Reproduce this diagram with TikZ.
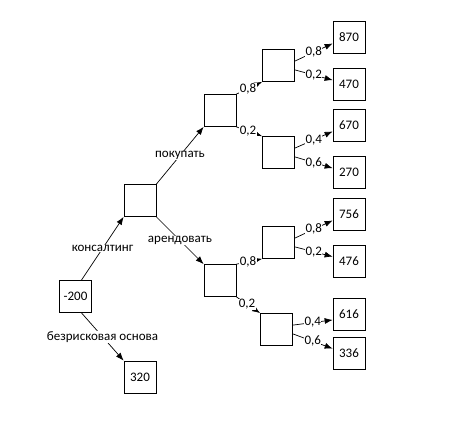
\documentclass[tikz,border=0pt]{standalone}
\usepackage{fontspec}
\setmainfont{Carlito}
\usetikzlibrary{arrows.meta, positioning}

\begin{document}
\begin{tikzpicture}[x=1pt, y=-1pt, line width=0.7pt,
    font=\fontsize{13}{15}\selectfont,
    box/.style={draw, minimum size=32pt, inner sep=0pt},
    lbl/.style={fill=white, inner sep=0.5pt},
    arr/.style={-{Latex[length=8pt, width=6pt]}}]
  \useasboundingbox (0,0) rectangle (453,429);

  % decision nodes
  \node[box] (root) at (75.5,296.5) {-200};
  \node[box] (cons) at (140,200.5) {};
  \node[box] (buy) at (220,110.5) {};
  \node[box] (rent) at (220,280.5) {};
  \node[box] (buyhi) at (278.5,65.5) {};
  \node[box] (buylo) at (278.5,152.5) {};
  \node[box] (renthi) at (278.5,242.5) {};
  \node[box] (rentlo) at (276.5,329.5) {};

  % outcomes
  \node[box] (safe) at (140,377) {320};
  \node[box] (o1) at (349,37.5) {870};
  \node[box] (o2) at (349,84.5) {470};
  \node[box] (o3) at (349,125.5) {670};
  \node[box] (o4) at (349,172.5) {270};
  \node[box] (o5) at (349,214.5) {756};
  \node[box] (o6) at (349,261) {476};
  \node[box] (o7) at (349,314) {616};
  \node[box] (o8) at (349,353) {336};

  % branches
  \draw[arr] (root.70) -- node[lbl] {консалтинг} (cons.south west);
  \draw[arr] (root.-70) -- node[lbl] {безрисковая основа} (safe.north west);
  \draw[arr] (cons.north east) -- node[lbl] {покупать} (buy.south west);
  \draw[arr] (cons.south east) -- node[lbl] {арендовать} (rent.north west);

  \draw[arr] (buy.north east) -- node[lbl, pos=0.45] {0,8} (buyhi.south west);
  \draw[arr] (buy.south east) -- node[lbl, pos=0.45] {0,2} (buylo.north west);
  \draw[arr] (rent.north east) -- node[lbl, pos=0.45] {0,8} (renthi.south west);
  \draw[arr] (rent.south east) -- node[lbl, pos=0.45] {0,2} (rentlo.north west);

  \draw[arr] (buyhi.15) -- node[lbl] {0,8} (o1.200);
  \draw[arr] (buyhi.-15) -- node[lbl] {0,2} (o2.165);
  \draw[arr] (buylo.15) -- node[lbl] {0,4} (o3.200);
  \draw[arr] (buylo.-15) -- node[lbl] {0,6} (o4.165);
  \draw[arr] (renthi.15) -- node[lbl] {0,8} (o5.200);
  \draw[arr] (renthi.-15) -- node[lbl] {0,2} (o6.165);
  \draw[arr] (rentlo.15) -- node[lbl] {0,4} (o7.200);
  \draw[arr] (rentlo.-15) -- node[lbl] {0,6} (o8.165);
\end{tikzpicture}
\end{document}
